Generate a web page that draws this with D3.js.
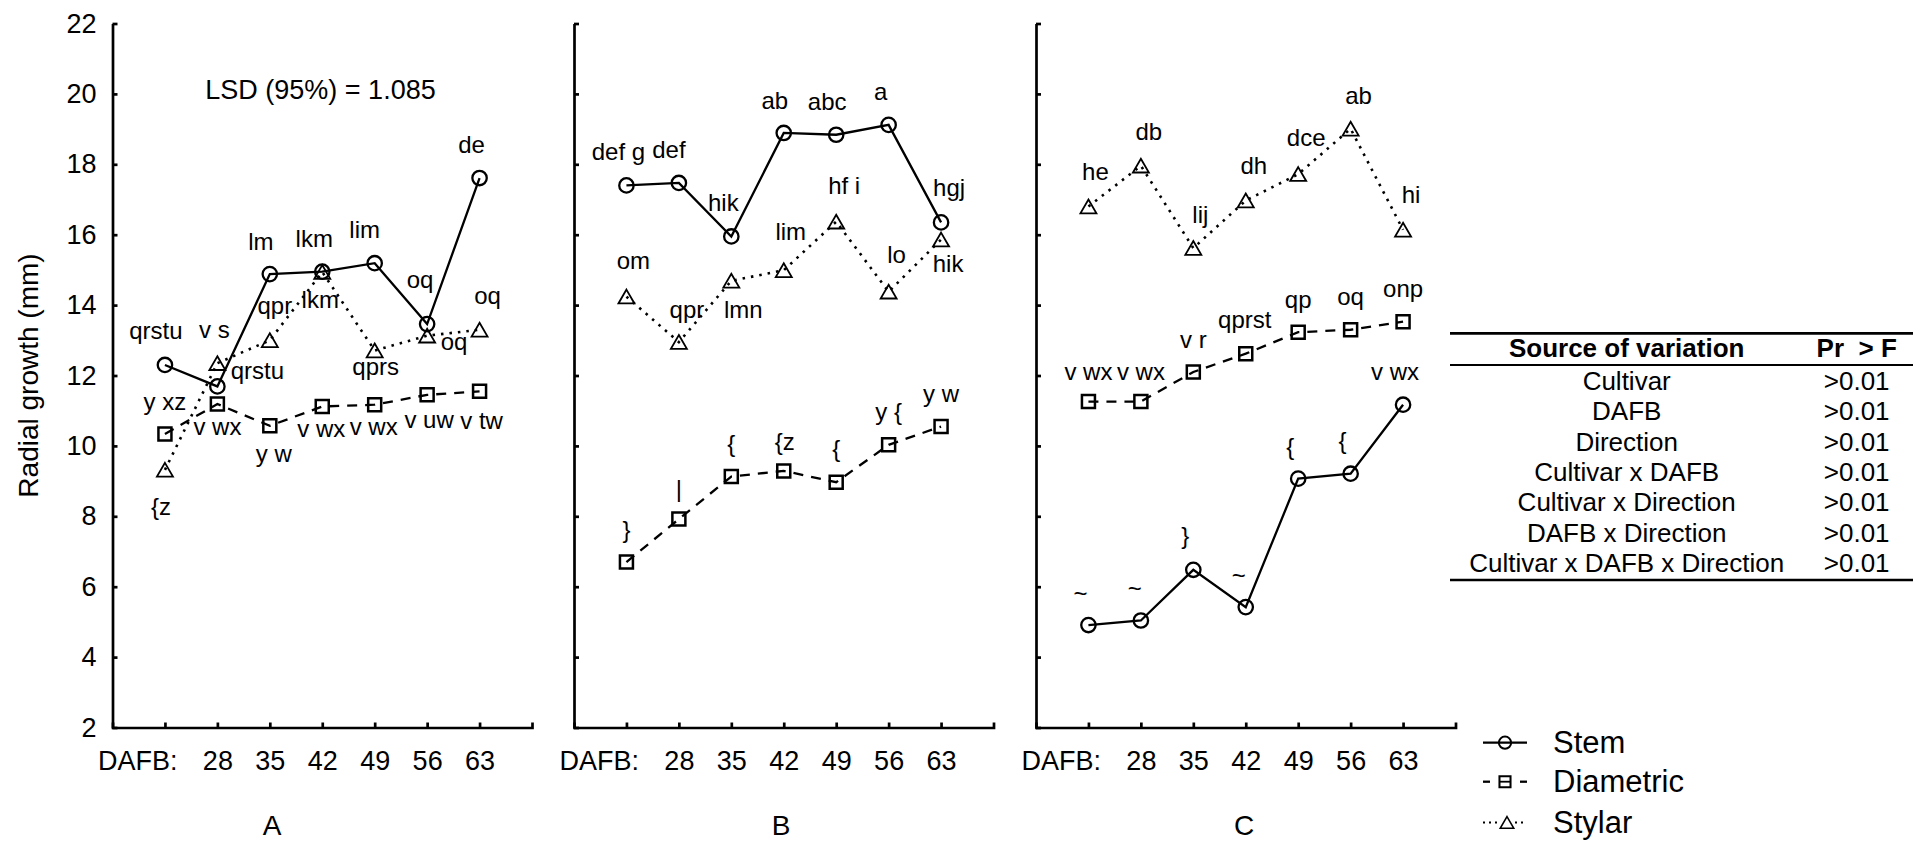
<!DOCTYPE html>
<html>
<head>
<meta charset="utf-8">
<script src="https://cdn.jsdelivr.net/npm/d3@7"></script>
<style>
body{margin:0;background:#fff;}
svg text{font-family:Arial,'Liberation Sans',sans-serif;fill:#000;}
</style>
</head>
<body>
<svg id="chart" width="1925" height="842"></svg>
<script>

// ---- data ----
var dafbLabels = ['DAFB:','28','35','42','49','56','63'];
var yTickValues = [2,4,6,8,10,12,14,16,18,20,22];
var panelNames = ['A','B','C'];

var stemA = [12.30, 11.69, 14.88, 14.95, 15.19, 13.46, 17.61];
var diamA = [10.34, 11.19, 10.57, 11.12, 11.17, 11.45, 11.55];
var stylA = [9.32, 12.35, 13.00, 14.94, 12.71, 13.13, 13.30];

var stemB = [17.40, 17.47, 15.95, 18.89, 18.84, 19.12, 16.35];
var diamB = [6.70, 7.92, 9.13, 9.29, 8.97, 10.03, 10.55];
var stylB = [14.24, 12.95, 14.69, 14.99, 16.37, 14.38, 15.86];

var stemC = [4.91, 5.04, 6.48, 5.42, 9.07, 9.21, 11.17];
var diamC = [11.26, 11.26, 12.10, 12.62, 13.23, 13.30, 13.53];
var stylC = [16.80, 17.96, 15.62, 16.97, 17.72, 19.01, 16.14];

var lettersStemA = ['qrstu','qrstu','lm','lkm','lim','oq','de'];
var lettersDiamA = ['y xz','v wx','y w','v wx','v wx','v uw','v tw'];
var lettersStylA = ['{z','v s','qpr','lkm','qprs','oq','oq'];

var lettersStemB = ['def g','def','hik','ab','abc','a','hgj'];
var lettersDiamB = ['}','|','{','{z','{','y {','y w'];
var lettersStylB = ['om','qpr','lmn','lim','hf i','lo','hik'];

var lettersStemC = ['~','~','}','~','{','{','v wx'];
var lettersDiamC = ['v wx','v wx','v r','qprst','qp','oq','onp'];
var lettersStylC = ['he','db','lij','dh','dce','ab','hi'];

var lsdText = 'LSD (95%) = 1.085';
var yTitle = 'Radial growth (mm)';

var sources = ['Cultivar','DAFB','Direction','Cultivar x DAFB','Cultivar x Direction','DAFB x Direction','Cultivar x DAFB x Direction'];
var prValues = ['>0.01','>0.01','>0.01','>0.01','>0.01','>0.01','>0.01'];
var tableHeader = ['Source of variation','Pr\u00a0 > F'];

var legendNames = ['Stem','Diametric','Stylar'];

// ---- layout ----
var config = {
	yTop:23.5,
	yBottom:727.5,
	panelWidth:419.5,
	panelLeft:[112.5,574,1036],
	panelLabelX:[272,781,1244],
	panelLabelY:835,
	tickFont:27,
	noteFont:24,
	axisWidth:2.7,
	lineWidth:2.3
};

// label offsets (dx,dy) from each point, per panel and series
var labelOffsets = [
	{
		stem:[[-9,-26],[40,-7],[-9,-24],[-8,-25],[-10,-25],[-7,-36],[-8,-25]],
		diam:[[0,-24],[0,31],[4,36],[-1,31],[-1,30],[2,33],[2,38]],
		styl:[[-4,45],[-3,-25],[5,-26],[-2,36],[1,24],[27,14],[8,-26]]
	},
	{
		stem:[[-8,-25],[-10,-25],[-8,-25],[-9,-24],[-9,-25],[-8,-25],[8,-26]],
		diam:[[0,-24],[0,-22],[0,-25],[1,-21],[0,-25],[0,-25],[0,-25]],
		styl:[[7,-28],[8,-24],[12,37],[7,-30],[8,-28],[8,-29],[7,32]]
	},
	{
		stem:[[-8,-23],[-6,-23],[-8,-26],[-7,-23],[-8,-24],[-8,-25],[-8,-25]],
		diam:[[0,-22],[0,-22],[0,-24],[-1,-26],[0,-24],[0,-25],[0,-25]],
		styl:[[7,-27],[8,-26],[7,-25],[8,-27],[8,-28],[8,-25],[8,-27]]
	}
];

var seriesStyle = {
	stem:{dash:null, marker:'M-7.2,0A7.2,7.2 0 1,1 7.2,0A7.2,7.2 0 1,1 -7.2,0Z', mw:2.3},
	diam:{dash:'10,8', marker:'M-6.5,-6.5H6.5V6.5H-6.5Z', mw:2.5},
	styl:{dash:'2.5,6', marker:'M0,-7L8,6.8H-8Z', mw:1.8}
};

var panels = [
	{series:{styl:stylA, diam:diamA, stem:stemA}, letters:{styl:lettersStylA, diam:lettersDiamA, stem:lettersStemA}},
	{series:{styl:stylB, diam:diamB, stem:stemB}, letters:{styl:lettersStylB, diam:lettersDiamB, stem:lettersStemB}},
	{series:{styl:stylC, diam:diamC, stem:stemC}, letters:{styl:lettersStylC, diam:lettersDiamC, stem:lettersStemC}}
];

var svg = d3.select('#chart');

var yScale = d3.scaleLinear()
				.domain([2,22])
				.range([config.yBottom,config.yTop]);

panels.forEach(function(p,pi){

	var x0 = config.panelLeft[pi];
	var xScale = d3.scaleLinear()
					.domain([-1,7])
					.range([x0,x0+config.panelWidth]);

	var g = svg.append('g');

	//axes
	var xAxis = d3.axisBottom(xScale)
				.tickValues(d3.range(dafbLabels.length))
				.tickFormat(function(d){return dafbLabels[d];})
				.tickSizeInner(-5)
				.tickSizeOuter(-5)
				.tickPadding(23.3);

	var yAxis = d3.axisLeft(yScale)
				.tickValues(yTickValues)
				.tickSizeInner(-5)
				.tickSizeOuter(0)
				.tickPadding(16)
				.tickFormat(pi==0 ? d3.format('d') : function(){return '';});

	var xg = g.append('g')
		.attr('transform','translate(0,'+config.yBottom+')')
		.call(xAxis);
	var yg = g.append('g')
		.attr('transform','translate('+x0+',0)')
		.call(yAxis);

	[xg,yg].forEach(function(a){
		a.attr('font-family',null).attr('font-size',config.tickFont);
		a.selectAll('path,line').attr('stroke','#000').attr('stroke-width',config.axisWidth);
		a.selectAll('text').attr('fill','#000');
	});
	xg.select('.tick text')
		.attr('text-anchor','end')
		.attr('dx',12);

	//lines + markers
	['styl','diam','stem'].forEach(function(key){
		var vals = p.series[key];
		var st = seriesStyle[key];
		var line = d3.line()
					.x(function(d,i){return xScale(i);})
					.y(function(d){return yScale(d);});

		g.append('path')
			.datum(vals)
			.attr('d',line)
			.attr('fill','none')
			.attr('stroke','#000')
			.attr('stroke-width',key=='styl' ? 2.6 : config.lineWidth)
			.attr('stroke-dasharray',st.dash);

		g.selectAll('.m-'+key)
			.data(vals)
			.enter()
			.append('path')
			.attr('class','m-'+key)
			.attr('transform',function(d,i){return 'translate('+xScale(i)+','+yScale(d)+')';})
			.attr('d',st.marker)
			.attr('fill','none')
			.attr('stroke','#000')
			.attr('stroke-width',st.mw);
	});

	//letters
	['styl','diam','stem'].forEach(function(key){
		var vals = p.series[key];
		var off = labelOffsets[pi][key];
		g.selectAll('.l-'+key)
			.data(p.letters[key])
			.enter()
			.append('text')
			.attr('class','l-'+key)
			.attr('x',function(d,i){return xScale(i)+off[i][0];})
			.attr('y',function(d,i){return yScale(vals[i])+off[i][1];})
			.attr('text-anchor','middle')
			.attr('font-size',config.noteFont)
			.text(function(d){return d;});
	});

	//panel letter
	svg.append('text')
		.attr('x',config.panelLabelX[pi])
		.attr('y',config.panelLabelY)
		.attr('text-anchor','middle')
		.attr('font-size',28)
		.text(panelNames[pi]);
});

svg.append('text')
	.attr('x',320.5)
	.attr('y',99.3)
	.attr('text-anchor','middle')
	.attr('font-size',27)
	.text(lsdText);

svg.append('text')
	.attr('transform','translate(37.5,'+((config.yTop+config.yBottom)/2)+') rotate(-90)')
	.attr('text-anchor','middle')
	.attr('font-size',28)
	.text(yTitle);

//table
var table = {x0:1450, x1:1913, top:333.3, headLine:365, bottom:580, headY:356.7, rowY:390, rowStep:30.3, col1:1626.7, col2:1856.7, font:26};

var tg = svg.append('g');
[[table.top,2.7],[table.headLine,2],[table.bottom,2.7]].forEach(function(l){
	tg.append('line')
		.attr('x1',table.x0).attr('x2',table.x1)
		.attr('y1',l[0]).attr('y2',l[0])
		.attr('stroke','#000').attr('stroke-width',l[1]);
});
tg.selectAll('.head')
	.data(tableHeader)
	.enter()
	.append('text')
	.attr('x',function(d,i){return i==0 ? table.col1 : table.col2;})
	.attr('y',table.headY)
	.attr('text-anchor','middle')
	.attr('font-weight','bold')
	.attr('font-size',table.font)
	.text(function(d){return d;});
tg.selectAll('.src')
	.data(sources)
	.enter()
	.append('text')
	.attr('x',table.col1)
	.attr('y',function(d,i){return table.rowY+i*table.rowStep;})
	.attr('text-anchor','middle')
	.attr('font-size',table.font)
	.text(function(d){return d;});
tg.selectAll('.pr')
	.data(prValues)
	.enter()
	.append('text')
	.attr('x',table.col2)
	.attr('y',function(d,i){return table.rowY+i*table.rowStep;})
	.attr('text-anchor','middle')
	.attr('font-size',table.font)
	.text(function(d){return d;});

//legend
var legend = {x0:1483, x1:1527, textX:1553, ys:[742.7,781.7,822.5], font:31};
var legendKeys = ['stem','diam','styl'];
var lg = svg.append('g');
legendKeys.forEach(function(key,i){
	var y = legend.ys[i];
	var st = seriesStyle[key];
	var mid = (legend.x0+legend.x1)/2;
	if(key=='stem'){
		lg.append('line').attr('x1',legend.x0).attr('x2',legend.x1).attr('y1',y).attr('y2',y)
			.attr('stroke','#000').attr('stroke-width',2.3);
	} else if(key=='diam'){
		[[legend.x0,legend.x0+7],[legend.x1-7,legend.x1]].forEach(function(s){
			lg.append('line').attr('x1',s[0]).attr('x2',s[1]).attr('y1',y).attr('y2',y)
				.attr('stroke','#000').attr('stroke-width',2.3);
		});
		lg.append('line').attr('x1',mid-5).attr('x2',mid+5).attr('y1',y).attr('y2',y)
			.attr('stroke','#000').attr('stroke-width',1.8);
	} else {
		[[legend.x0,legend.x0+15],[legend.x1-12,legend.x1]].forEach(function(s){
			lg.append('line').attr('x1',s[0]).attr('x2',s[1]).attr('y1',y).attr('y2',y)
				.attr('stroke','#000').attr('stroke-width',2).attr('stroke-dasharray','2,4');
		});
	}
	lg.append('path')
		.attr('transform','translate('+(key=='styl' ? mid+2 : mid)+','+y+') scale(0.85)')
		.attr('d',st.marker)
		.attr('fill','none')
		.attr('stroke','#000')
		.attr('stroke-width',key=='styl' ? 1.8 : 2.4);
	lg.append('text')
		.attr('x',legend.textX)
		.attr('y',y+10)
		.attr('font-size',legend.font)
		.text(legendNames[i]);
});

</script>
</body>
</html>
